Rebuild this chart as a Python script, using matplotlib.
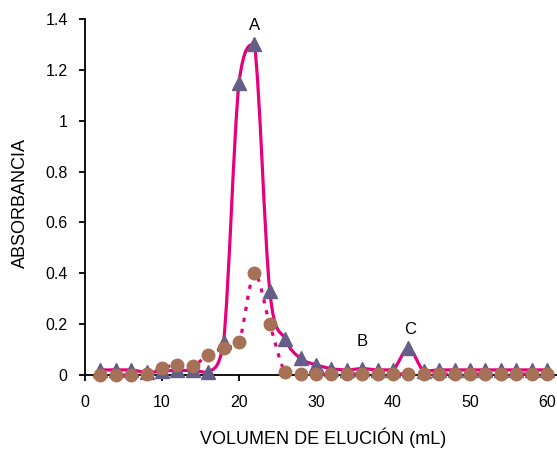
import matplotlib
matplotlib.use("Agg")
import matplotlib.pyplot as plt
from matplotlib.path import Path
from matplotlib.patches import PathPatch
import numpy as np

plt.rcParams["font.family"] = ["Liberation Sans", "DejaVu Sans"]

# elution volume (mL) of each fraction
volumen = [2, 4, 6, 8, 10, 12, 14, 16, 18, 20, 22, 24, 26, 28, 30,
           32, 34, 36, 38, 40, 42, 44, 46, 48, 50, 52, 54, 56, 58, 60]
# absorbance, triangles (solid line)
abs_tri = [0.02, 0.02, 0.02, 0.01, 0.015, 0.018, 0.018, 0.01, 0.13, 1.15,
           1.30, 0.33, 0.14, 0.065, 0.04, 0.025, 0.02, 0.025, 0.02, 0.02,
           0.105, 0.015, 0.02, 0.02, 0.02, 0.02, 0.02, 0.02, 0.02, 0.02]
# absorbance, circles (dotted line)
abs_circ = [0.0, 0.0, 0.0, 0.005, 0.027, 0.04, 0.035, 0.08, 0.105, 0.13,
            0.40, 0.20, 0.01, 0.005, 0.004, 0.004, 0.004, 0.004, 0.004, 0.004,
            0.004, 0.004, 0.004, 0.004, 0.004, 0.004, 0.004, 0.004, 0.004, 0.004]

peak_labels = ["A", "B", "C"]
peak_pos = [(22, 1.375), (36, 0.13), (42.2, 0.18)]

MAGENTA = "#e6007e"
TRI_COLOR = "#655e86"
CIRC_COLOR = "#a67156"


def smooth_path(xs, ys, t=1.0 / 6):
    # bezier smoothing, control points kept inside each segment's y range
    pts = np.column_stack([xs, ys]).astype(float)
    n = len(pts)
    verts = [pts[0]]
    codes = [Path.MOVETO]
    for i in range(n - 1):
        p0 = pts[i - 1] if i > 0 else pts[i]
        p1 = pts[i]
        p2 = pts[i + 1]
        p3 = pts[i + 2] if i + 2 < n else pts[i + 1]
        c1 = p1 + (p2 - p0) * t
        c2 = p2 - (p3 - p1) * t
        lo, hi = min(p1[1], p2[1]), max(p1[1], p2[1])
        c1[1] = np.clip(c1[1], lo, hi)
        c2[1] = np.clip(c2[1], lo, hi)
        verts += [c1, c2, p2]
        codes += [Path.CURVE4] * 3
    return Path(verts, codes)


fig = plt.figure(figsize=(5.57, 4.49), dpi=100)
ax = fig.add_axes([85 / 557, 74 / 449, 472 / 557, 356 / 449])

ax.add_patch(PathPatch(smooth_path(volumen, abs_tri), fill=False,
                       edgecolor=MAGENTA, lw=2.3, zorder=2, clip_on=False))
ax.plot(volumen, abs_tri, ls="none", marker="^", ms=9.5,
        color=TRI_COLOR, zorder=3, clip_on=False)
ax.add_patch(PathPatch(smooth_path(volumen, abs_circ), fill=False,
                       edgecolor=MAGENTA, lw=2.3, ls=(0, (1.3, 2.2)),
                       capstyle="butt", zorder=4, clip_on=False))
ax.plot(volumen, abs_circ, ls="none", marker="o", ms=9,
        color=CIRC_COLOR, zorder=5, clip_on=False)

for lab, (px, py) in zip(peak_labels, peak_pos):
    ax.text(px, py, lab, ha="center", va="center", fontsize=12)

ax.set_xlim(0, 61.3)
ax.set_ylim(0, 1.4)
ax.set_xticks(np.arange(0, 61, 10))
ax.set_yticks(np.arange(0, 1.41, 0.2))
ax.set_yticklabels(["0", "0.2", "0.4", "0.6", "0.8", "1", "1.2", "1.4"])
ax.spines["top"].set_visible(False)
ax.spines["right"].set_visible(False)
for s in ["left", "bottom"]:
    ax.spines[s].set_linewidth(1.3)
ax.tick_params(direction="out", length=4.5, width=1.3, labelsize=11.5, pad=10)
ax.tick_params(axis="y", pad=8)

fig.text(20 / 557, 1 - 203 / 449, "ABSORBANCIA", rotation=90,
         ha="center", va="center", fontsize=13)
fig.text(323 / 557, 1 - 444 / 449, "VOLUMEN DE ELUCIÓN (mL)",
         ha="center", va="baseline", fontsize=13)

fig.savefig("out.png", dpi=100)
